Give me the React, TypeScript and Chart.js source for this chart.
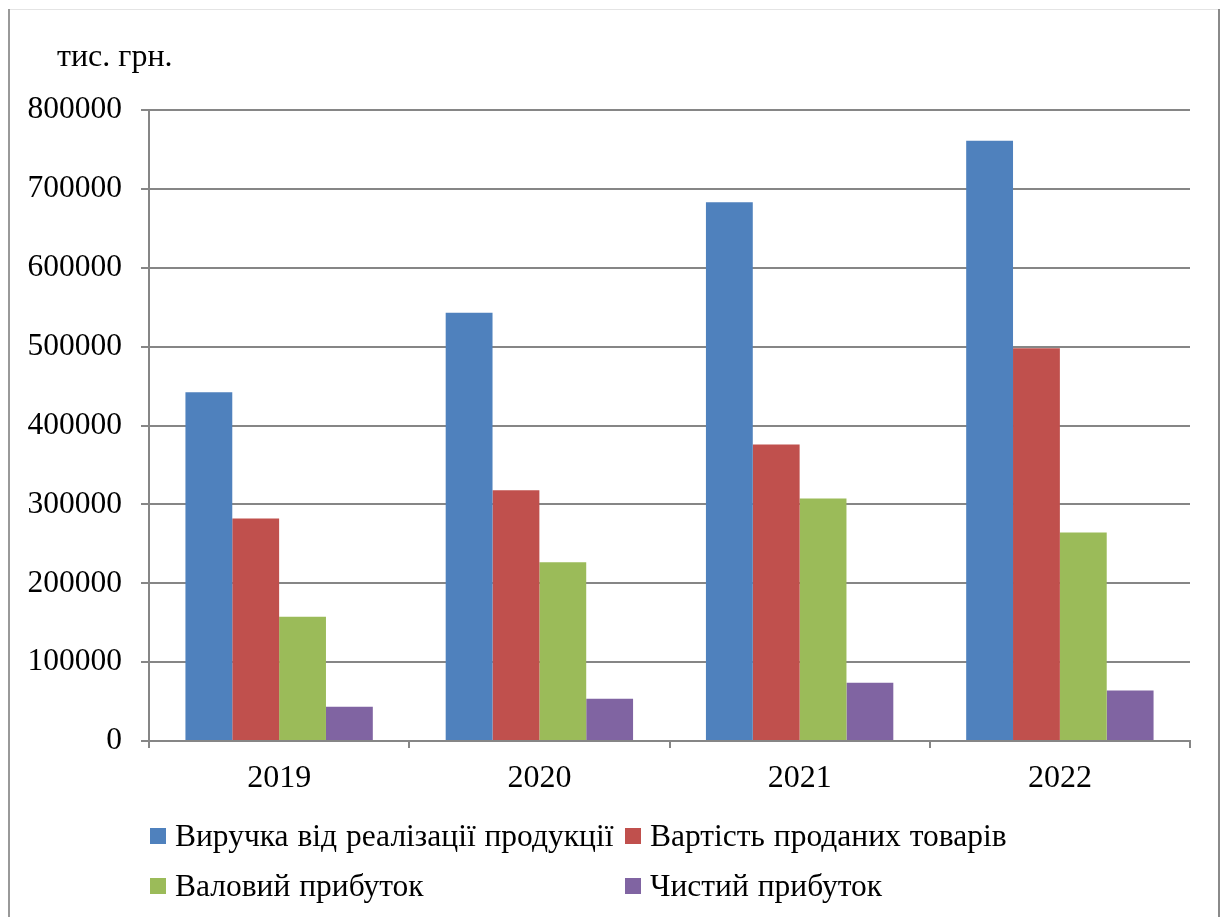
import React, { useEffect, useRef } from "react";
import { Chart, registerables } from "chart.js";

Chart.register(...registerables);

// Categories and series (тис. грн.)
const years = ["2019", "2020", "2021", "2022"];
const revenue = [442000, 543000, 683000, 761000];
const costOfGoods = [282000, 318000, 376000, 498000];
const grossProfit = [157500, 226500, 307500, 264500];
const netProfit = [43500, 53700, 74000, 64000];

const seriesNames = [
  "Виручка від реалізації продукції",
  "Вартість проданих товарів",
  "Валовий прибуток",
  "Чистий прибуток",
];
const seriesColors = ["#4F81BD", "#C0504D", "#9BBB59", "#8064A2"];
const seriesValues = [revenue, costOfGoods, grossProfit, netProfit];

const unitLabel = "тис. грн.";
const yMax = 800000;
const yStep = 100000;

const FONT = "'Liberation Serif', 'Times New Roman', serif";
const GRID = "#868686";

// Legend order: two columns, left column then right column per row
const legendRows = [
  [0, 1],
  [2, 3],
];

export default function App() {
  const canvasRef = useRef<HTMLCanvasElement | null>(null);

  useEffect(() => {
    if (!canvasRef.current) return;
    const chart = new Chart(canvasRef.current, {
      type: "bar",
      data: {
        labels: years,
        datasets: seriesValues.map((values, i) => ({
          label: seriesNames[i],
          data: values,
          backgroundColor: seriesColors[i],
          borderWidth: 0,
          categoryPercentage: 0.72,
          barPercentage: 1.0,
        })),
      },
      options: {
        animation: false,
        responsive: false,
        maintainAspectRatio: false,
        layout: { padding: { left: 8, right: 37, top: 110, bottom: 0 } },
        plugins: {
          legend: { display: false },
          tooltip: { enabled: false },
          title: { display: false },
        },
        scales: {
          x: {
            type: "category",
            afterFit: (scale: any) => {
              scale.height = 176;
            },
            grid: {
              display: true,
              drawOnChartArea: false,
              offset: true,
              color: GRID,
              lineWidth: 2,
              tickLength: 7,
            },
            border: { display: true, color: GRID, width: 2 },
            ticks: {
              color: "#000",
              font: { family: FONT, size: 32 },
              padding: 11,
              maxRotation: 0,
            },
          },
          y: {
            type: "linear",
            min: 0,
            max: yMax,
            afterFit: (scale: any) => {
              scale.width = 141;
            },
            grid: {
              color: GRID,
              lineWidth: 2,
              tickLength: 8,
            },
            border: { display: true, color: GRID, width: 2 },
            ticks: {
              stepSize: yStep,
              color: "#000",
              font: { family: FONT, size: 31.5 },
              padding: 19,
              callback: (v: any) => String(v),
            },
          },
        },
      },
    });
    return () => chart.destroy();
  }, []);

  return (
    <div
      style={{
        position: "fixed",
        left: 0,
        top: 0,
        width: 1227,
        height: 917,
        background: "#fff",
        fontFamily: FONT,
        color: "#000",
      }}
    >
      <div style={{ position: "absolute", left: 9, top: 9, width: 1211, height: 1, background: "#e4e4e4" }} />
      <div style={{ position: "absolute", left: 8, top: 9, width: 2, height: 908, background: "#999" }} />
      <div style={{ position: "absolute", left: 1218, top: 9, width: 2, height: 908, background: "#8a8a8a" }} />
      <canvas
        ref={canvasRef}
        width={1227}
        height={917}
        style={{ position: "absolute", left: 0, top: 0, width: 1227, height: 917 }}
      />
      <div
        style={{
          position: "absolute",
          left: 57,
          top: 35,
          fontSize: 32,
          lineHeight: "40px",
          whiteSpace: "nowrap",
        }}
      >
        {unitLabel}
      </div>
      {legendRows.map((row, r) =>
        row.map((idx, c) => (
          <div
            key={`${r}-${c}`}
            style={{
              position: "absolute",
              left: c === 0 ? 150 : 625,
              top: 815 + r * 50,
              height: 42,
              display: "flex",
              alignItems: "center",
              whiteSpace: "nowrap",
              fontSize: 31.5,
              wordSpacing: 1,
            }}
          >
            <span
              style={{
                display: "inline-block",
                width: 16,
                height: 16,
                background: seriesColors[idx],
                marginRight: 9,
              }}
            />
            <span>{seriesNames[idx]}</span>
          </div>
        ))
      )}
    </div>
  );
}
